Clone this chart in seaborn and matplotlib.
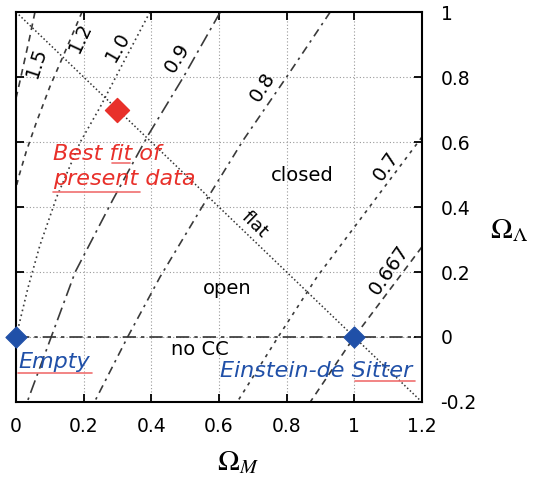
import numpy as np
import pandas as pd
import matplotlib
matplotlib.use('Agg')
import matplotlib.pyplot as plt
from matplotlib.ticker import FuncFormatter, MultipleLocator
import seaborn as sns

# lines of constant H0*t0 in the (Omega_M, Omega_Lambda) plane
om_15 = [0.056, 0.04, 0.025, 0.01, 0.0]
ol_15 = [1.0, 0.92, 0.85, 0.78, 0.735]
om_12 = [0.195, 0.15, 0.10, 0.06, 0.03, 0.01, 0.0]
ol_12 = [1.0, 0.89, 0.77, 0.66, 0.57, 0.50, 0.46]
om_10 = [0.396, 0.31, 0.25, 0.19, 0.12, 0.07, 0.035, 0.0]
ol_10 = [1.0, 0.83, 0.71, 0.60, 0.43, 0.28, 0.15, 0.0]
om_09 = [0.604, 0.495, 0.39, 0.285, 0.175, 0.104, 0.033]
ol_09 = [1.0, 0.80, 0.62, 0.42, 0.20, 0.0, -0.2]
om_08 = [0.929, 0.80, 0.672, 0.55, 0.426, 0.33, 0.232]
ol_08 = [1.0, 0.80, 0.606, 0.40, 0.185, 0.0, -0.2]
om_07 = [1.2, 1.045, 0.89, 0.775, 0.654]
ol_07 = [0.615, 0.40, 0.185, 0.0, -0.2]
om_0667 = [1.2, 1.0, 0.87]
ol_0667 = [0.277, 0.0, -0.2]

age_labels = ['1.5', '1.2', '1.0', '0.9', '0.8', '0.7', '0.667']
age_om = [om_15, om_12, om_10, om_09, om_08, om_07, om_0667]
age_ol = [ol_15, ol_12, ol_10, ol_09, ol_08, ol_07, ol_0667]

# flat universe and no cosmological constant
flat_om = [0.0, 1.2]
flat_ol = [1.0, -0.2]
nocc_om = [0.0, 1.2]
nocc_ol = [0.0, 0.0]

# special models
best_om, best_ol = [0.3], [0.7]
blue_om, blue_ol = [0.0, 1.0], [0.0, 0.0]

frames = []
for lab, xs, ys in zip(age_labels, age_om, age_ol):
    frames.append(pd.DataFrame({'curve': lab, 'om': xs, 'ol': ys}))
df = pd.concat(frames, ignore_index=True)

sns.set_theme(style='white')
plt.rcParams['font.family'] = ['DejaVu Sans']
plt.rcParams['mathtext.fontset'] = 'stix'
plt.rcParams['axes.unicode_minus'] = False
plt.rcParams['text.color'] = 'black'

fig = plt.figure(figsize=(5.34, 4.82), dpi=100)
ax = fig.add_axes([0.030, 0.166, 0.760, 0.809])

styles = {
    '1.5': (0, (4, 3)),
    '1.2': (0, (3, 3)),
    '1.0': (0, (1, 2)),
    '0.9': (0, (8, 3, 1.5, 3)),
    '0.8': (0, (5, 3, 1.5, 3)),
    '0.7': (0, (2, 3)),
    '0.667': (0, (4, 3)),
}
for lab in age_labels:
    sns.lineplot(data=df[df['curve'] == lab], x='om', y='ol', sort=False,
                 estimator=None, color='#3a3a3a', linewidth=1.2,
                 linestyle=styles[lab], ax=ax)

sns.lineplot(x=flat_om, y=flat_ol, sort=False, estimator=None, color='#333333',
             linewidth=1.1, linestyle=(0, (1, 1.5)), ax=ax)
sns.lineplot(x=nocc_om, y=nocc_ol, sort=False, estimator=None, color='#333333',
             linewidth=1.2, linestyle=(0, (8, 3, 2, 3)), ax=ax)

sns.scatterplot(x=best_om, y=best_ol, marker='D', s=150, color='#e8302a',
                edgecolor='#e8302a', zorder=5, clip_on=False, ax=ax)
sns.scatterplot(x=blue_om, y=blue_ol, marker='D', s=115, color='#2050a8',
                edgecolor='#2050a8', zorder=5, clip_on=False, ax=ax)

ax.set_xlim(0, 1.2)
ax.set_ylim(-0.2, 1.0)
ax.xaxis.set_major_locator(MultipleLocator(0.2))
ax.yaxis.set_major_locator(MultipleLocator(0.2))
fmt = FuncFormatter(lambda v, p: '%g' % round(v, 2))
ax.xaxis.set_major_formatter(fmt)
ax.yaxis.set_major_formatter(fmt)
ax.grid(True, color='#999999', linestyle=(0, (1, 2)), linewidth=0.8)
ax.tick_params(direction='in', length=6, width=1.3, top=True, bottom=True,
               left=True, right=True, labelleft=False, labelright=True,
               labelsize=13.5, colors='black')
ax.tick_params(axis='x', pad=11)
ax.tick_params(axis='y', pad=13.5)
for s in ax.spines.values():
    s.set_color('black')
    s.set_linewidth(1.5)

ax.set_xlabel('')
ax.set_ylabel('')
ax.text(0.547, -0.118, r'$\Omega_M$', transform=ax.transAxes, fontsize=21,
        ha='center', va='top')
ax.text(1.167, 0.44, r'$\Omega_\Lambda$', transform=ax.transAxes, fontsize=21,
        ha='left', va='center')

# contour labels
lab_pos = {'1.5': (0.059, 0.846, 72), '1.2': (0.19, 0.92, 65), '1.0': (0.302, 0.892, 60),
           '0.9': (0.476, 0.858, 58), '0.8': (0.728, 0.769, 57), '0.7': (1.095, 0.526, 55),
           '0.667': (1.104, 0.206, 55)}
for lab in age_labels:
    x, y, r = lab_pos[lab]
    ax.text(x, y, lab, rotation=r, fontsize=14, ha='center', va='center')

ax.text(0.846, 0.498, 'closed', fontsize=14, ha='center', va='center')
ax.text(0.624, 0.148, 'open', fontsize=14, ha='center', va='center')
ax.text(0.544, -0.04, 'no CC', fontsize=14, ha='center', va='center')
ax.text(0.707, 0.345, 'flat', fontsize=13, rotation=-44, ha='center', va='center')

red = '#e8302a'
blue = '#2050a8'
ax.text(0.109, 0.545, 'Best fit of', color=red, fontsize=16, style='italic',
        ha='left', va='baseline')
ax.text(0.109, 0.468, 'present data', color=red, fontsize=16, style='italic',
        ha='left', va='baseline')
ax.text(0.006, -0.095, 'Empty', color=blue, fontsize=16, style='italic',
        ha='left', va='baseline')
ax.text(0.604, -0.123, 'Einstein-de Sitter', color=blue, fontsize=16,
        style='italic', ha='left', va='baseline')

# spell-check underlines seen in the slide
for x0, x1, y in [(0.284, 0.337, 0.535), (0.109, 0.367, 0.446),
                  (0.006, 0.225, -0.111), (1.003, 1.18, -0.135)]:
    ax.plot([x0, x1], [y, y], color='#f07070', linewidth=1.2, zorder=4)

fig.savefig('out.png', dpi=100)
